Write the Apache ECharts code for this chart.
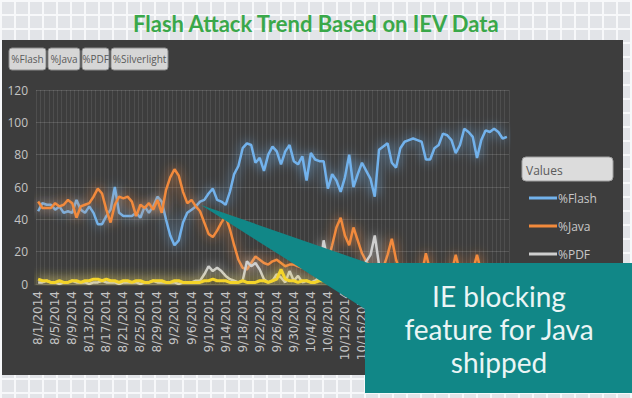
<!DOCTYPE html>
<html>
<head>
<meta charset="utf-8">
<script src="https://cdn.jsdelivr.net/npm/echarts@6/dist/echarts.min.js"></script>
<style>
  html, body { margin: 0; padding: 0; }
  body {
    width: 632px; height: 398px; overflow: hidden;
    background-color: #e2e4e8;
    background-image: linear-gradient(#f7f8fa 2px, transparent 2px),
                      linear-gradient(90deg, #f7f8fa 2px, transparent 2px);
    background-size: 14px 14px;
  }
  #main { width: 632px; height: 398px; }
</style>
</head>
<body>
<div id="main"></div>
<script>
// daily points, 8/1/2014 .. 11/19/2014
const startDate = [2014, 7, 1];
const dayCount = 111;
const yTicks = [0, 20, 40, 60, 80, 100, 120];
const seriesNames = ['%Flash', '%Java', '%PDF', '%Silverlight'];
const seriesColors = ['#72b2ec', '#f28a3c', '#cfcfcf', '#f4d42a'];

const flash = [45,50,49,49,46,48,44,45,44,52, 46,44,48,44,37,37,42,46,60,44,
  42,42,42,44,41,48,44,48,54,51, 40,30,24,27,38,44,46,48,51,52,
  56,59,52,51,49,57,68,73,84,87, 86,75,78,70,80,85,82,74,82,86,
  76,74,79,64,81,77,76,76,59,68, 64,57,66,80,60,68,75,70,65,54,
  83,85,87,75,72,84,88,89,90,89, 88,77,77,84,86,93,92,89,81,86,
  96,94,91,78,89,95,94,96,94,90, 91];
const java = [51,47,47,47,50,48,49,52,50,41, 48,49,50,54,59,56,46,38,49,54,
  53,54,51,42,49,47,50,46,52,44, 58,66,71,67,57,50,52,48,45,38,
  31,29,33,38,42,34,24,15,10,9, 13,17,15,13,12,14,15,13,11,12,
  12,11,10,12,14,12,11,12,14,24, 35,41,30,24,35,27,19,14,10,9,
  8,10,18,28,15,7,6,5,6,5, 6,19,8,6,5,6,5,7,18,7,
  5,6,8,18,7,5,6,5,4,5, 6];
const pdf = [1,1,2,1,1,0,1,1,2,1, 1,1,0,1,1,2,1,1,1,0,
  1,1,1,1,0,1,1,2,1,1, 1,1,1,0,1,1,1,2,2,6,
  11,8,10,8,5,3,2,1,2,14, 11,13,9,3,1,2,6,4,1,8,
  2,5,1,2,1,2,4,27,13,3, 2,5,3,2,4,2,5,14,18,30,
  12,6,5,3,4,6,2,3,5,2, 4,3,2,5,3,2,4,3,2,3,
  5,2,3,4,2,3,2,3,4,2, 3];
const silverlight = [3,2,2,1,1,2,1,1,2,2, 1,2,2,3,3,2,3,2,2,1,
  2,2,1,2,2,1,1,2,2,2, 1,1,2,2,1,1,1,1,1,2,
  2,3,2,2,2,1,1,1,2,1, 1,1,2,2,1,2,3,9,3,2,
  2,1,2,2,1,1,2,2,3,2, 1,2,1,1,2,1,2,1,1,2,
  1,1,2,1,1,2,1,1,2,1, 1,2,1,1,2,1,1,2,1,1,
  2,1,1,2,1,1,2,1,1,2, 1];

const days = [];
for (let i = 0; i < dayCount; i++) {
  const d = new Date(startDate[0], startDate[1], startDate[2] + i);
  days.push((d.getMonth() + 1) + '/' + d.getDate() + '/' + d.getFullYear());
}

const myChart = echarts.init(document.getElementById('main'), null, { renderer: 'svg' });

// pivot field buttons at the top left
const buttons = [
  { text: '%Flash', x: 9, w: 37 },
  { text: '%Java', x: 48, w: 32 },
  { text: '%PDF', x: 82, w: 27 },
  { text: '%Silverlight', x: 111, w: 57 }
];
const buttonEls = [];
buttons.forEach(b => {
  buttonEls.push({
    type: 'rect', z: 5,
    shape: { x: b.x, y: 48, width: b.w, height: 22, r: 3 },
    style: { fill: '#d6d6d6', stroke: '#8c8c8c', lineWidth: 1 }
  });
  buttonEls.push({
    type: 'text', z: 6,
    style: {
      text: b.text, x: b.x + b.w / 2, y: 59,
      textAlign: 'center', textVerticalAlign: 'middle',
      font: '10px "Open Sans"', fill: '#5a5a5a'
    }
  });
});

const makeSeries = (name, data, color, width) => ({
  name: name,
  type: 'line',
  data: data,
  showSymbol: false,
  symbol: 'none',
  smooth: false,
  lineStyle: { color: color, width: width, shadowColor: color, shadowBlur: 12 },
  itemStyle: { color: color }
});

const option = {
  animation: false,
  title: {
    text: 'Flash Attack Trend Based on IEV Data',
    left: 128,
    top: 7,
    textStyle: { color: '#3aa84a', fontSize: 22, fontWeight: 'bold', fontFamily: 'Lato' }
  },
  legend: {
    data: seriesNames,
    orient: 'vertical',
    left: 524,
    top: 187,
    icon: 'rect',
    itemWidth: 28,
    itemHeight: 3,
    itemGap: 16,
    textStyle: { color: '#c8c8c8', fontSize: 12, fontFamily: 'Open Sans', padding: [0, 0, 0, -4] }
  },
  grid: { left: 36, top: 90, width: 473, height: 194, containLabel: false },
  xAxis: {
    type: 'category',
    data: days,
    boundaryGap: true,
    axisLine: { show: true, lineStyle: { color: '#5c5c5c' } },
    axisTick: { show: false },
    axisLabel: {
      interval: 3, rotate: 90, margin: 7,
      color: '#c4c4c4', fontSize: 12, fontFamily: 'DejaVu Sans'
    },
    splitLine: { show: true, interval: 0, lineStyle: { color: 'rgba(255,255,255,0.09)', width: 1 } }
  },
  yAxis: {
    type: 'value',
    min: yTicks[0],
    max: yTicks[yTicks.length - 1],
    interval: yTicks[1] - yTicks[0],
    axisLine: { show: false },
    axisTick: { show: false },
    axisLabel: { color: '#c4c4c4', fontSize: 12, fontFamily: 'Open Sans', margin: 8 },
    splitLine: { lineStyle: { color: '#575757', width: 1 } }
  },
  graphic: [
    {
      type: 'rect', z: -10,
      shape: { x: 2, y: 40, width: 621, height: 335 },
      style: { fill: '#3d3d3d' }
    },
    ...buttonEls,
    {
      type: 'rect', z: 5,
      shape: { x: 522, y: 157, width: 91, height: 24, r: 4 },
      style: { fill: '#dcdcdc', stroke: '#a0a0a0', lineWidth: 1 }
    },
    {
      type: 'text', z: 6,
      style: {
        text: 'Values', x: 526, y: 170, textAlign: 'left', textVerticalAlign: 'middle',
        font: '12px "Open Sans"', fill: '#5a5a5a'
      }
    },
    // callout
    {
      type: 'polygon', z: 100,
      shape: { points: [[201, 205], [368, 263], [368, 311]] },
      style: { fill: '#118787' }
    },
    {
      type: 'rect', z: 100,
      shape: { x: 365, y: 263, width: 267, height: 130 },
      style: { fill: '#118787' }
    },
    {
      type: 'text', z: 101,
      style: {
        text: 'IE blocking\nfeature for Java\nshipped',
        x: 499, y: 329, textAlign: 'center', textVerticalAlign: 'middle',
        font: '28px Lato', lineHeight: 33, fill: '#eaf5f5'
      }
    }
  ],
  series: [
    makeSeries(seriesNames[0], flash, seriesColors[0], 2.5),
    makeSeries(seriesNames[1], java, seriesColors[1], 2.5),
    makeSeries(seriesNames[2], pdf, seriesColors[2], 2.5),
    makeSeries(seriesNames[3], silverlight, seriesColors[3], 3)
  ]
};

myChart.setOption(option);
</script>
</body>
</html>
